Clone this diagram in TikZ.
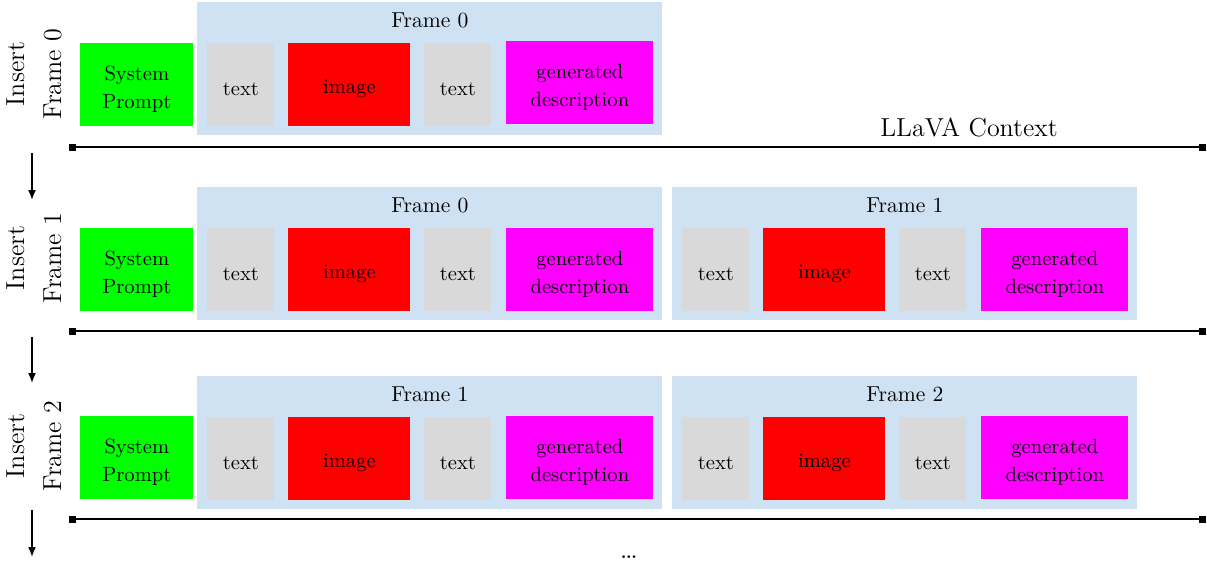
\documentclass[tikz,border=0pt]{standalone}
\usetikzlibrary{arrows.meta}

\definecolor{framebg}{RGB}{207,226,243}
\definecolor{tokgrey}{RGB}{217,217,217}
\definecolor{sysgreen}{RGB}{0,255,0}
\definecolor{imgred}{RGB}{255,0,0}
\definecolor{descmag}{RGB}{255,0,255}

\tikzset{
  tok/.style={rectangle, inner sep=0pt, anchor=north west,
    minimum height=41.5pt},
  toktext/.style={align=center, inner sep=0pt, yshift=-2pt,
    font=\fontsize{10.3}{14}\selectfont},
  sysbox/.style={tok, fill=sysgreen, minimum width=56.5pt},
  txtbox/.style={tok, fill=tokgrey, minimum width=33.5pt},
  imgbox/.style={tok, fill=imgred, minimum width=61pt},
  descbox/.style={tok, fill=descmag, minimum width=73.5pt},
  framebox/.style={rectangle, inner sep=0pt, anchor=north west, fill=framebg,
    minimum width=232.5pt, minimum height=66.5pt},
  frametitle/.style={inner sep=0pt, font=\fontsize{10.8}{12}\selectfont},
  sidelabel/.style={rotate=90, align=center, inner sep=0pt,
    font=\fontsize{13}{18.5}\selectfont},
  contextline/.style={line width=0.9pt,
    {Square[length=3.5pt,width=3.5pt]}-{Square[length=3.5pt,width=3.5pt]}},
  steparrow/.style={line width=0.8pt, -{Latex[length=5pt,width=4pt]}},
}

% a token box with its caption: style, name, position, caption
\newcommand\tokbox[4]{%
  \node[#1] (#2) at (#3) {};
  \node[toktext] (#2-txt) at (#2.center) {#4};
}

% one frame: name, left x, top y, title, vertical offset of the description box
\newcommand\tokenframe[5]{%
  \node[framebox] (#1) at (#2,#3) {};
  \node[frametitle] (#1-title) at ([yshift=-9pt]#1.north) {#4};
  \tokbox{txtbox}{#1-t1}{{#2+10},{#3+41}}{text}
  \tokbox{imgbox}{#1-img}{{#2+91},{#3+41}}{image}
  \tokbox{txtbox}{#1-t2}{{#2+227},{#3+41}}{text}
  \tokbox{descbox}{#1-desc}{{#2+309},{#3+#5}}{generated\\description}
}

\begin{document}
\begin{tikzpicture}[x=0.5pt, y=-0.5pt]
  \useasboundingbox (0,0) rectangle (1207,564);

  % step 0
  \node[sidelabel] (ins0) at (34,74) {Insert\\Frame 0};
  \tokbox{sysbox}{sys0}{80,43}{System\\Prompt}
  \tokenframe{fa}{197}{2}{Frame 0}{39}
  \coordinate (l0a) at (69,147);
  \coordinate (l0b) at (1206,147);
  \draw[contextline] (l0a) -- (l0b);
  \node[font=\fontsize{13}{15}\selectfont, anchor=base] (ctx) at (969,136) {LLaVA Context};
  \coordinate (a0s) at (32,153);
  \coordinate (a0e) at (32,200);
  \draw[steparrow] (a0s) -- (a0e);

  % step 1
  \node[sidelabel] (ins1) at (34,258) {Insert\\Frame 1};
  \tokbox{sysbox}{sys1}{80,228}{System\\Prompt}
  \tokenframe{fb}{197}{187}{Frame 0}{41}
  \tokenframe{fc}{672}{187}{Frame 1}{41}
  \coordinate (l1a) at (69,331);
  \coordinate (l1b) at (1206,331);
  \draw[contextline] (l1a) -- (l1b);
  \coordinate (a1s) at (32,337);
  \coordinate (a1e) at (32,383);
  \draw[steparrow] (a1s) -- (a1e);

  % step 2
  \node[sidelabel] (ins2) at (34,446) {Insert\\Frame 2};
  \tokbox{sysbox}{sys2}{80,416}{System\\Prompt}
  \tokenframe{fd}{197}{376}{Frame 1}{40}
  \tokenframe{fe}{672}{376}{Frame 2}{40}
  \coordinate (l2a) at (69,519);
  \coordinate (l2b) at (1206,519);
  \draw[contextline] (l2a) -- (l2b);
  \coordinate (a2s) at (32,510);
  \coordinate (a2e) at (32,557);
  \draw[steparrow] (a2s) -- (a2e);

  \node[font=\fontsize{14}{16}\selectfont, inner sep=0pt] (more) at (629,557) {\dots};
\end{tikzpicture}
\end{document}
